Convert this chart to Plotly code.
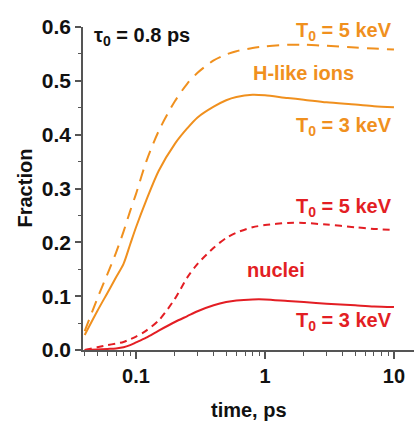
import math
import plotly.graph_objects as go

# time grid (ps)
t = [0.04, 0.05, 0.06, 0.07, 0.08, 0.09, 0.1, 0.12, 0.15, 0.2, 0.25, 0.3,
     0.4, 0.5, 0.6, 0.8, 1, 1.5, 2, 3, 5, 7, 10]

hlike_5kev = [0.035, 0.095, 0.141, 0.181, 0.22, 0.258, 0.29, 0.35, 0.407, 0.462,
              0.495, 0.515, 0.538, 0.549, 0.555, 0.561, 0.564, 0.567, 0.567,
              0.565, 0.562, 0.56, 0.558]
hlike_3kev = [0.028, 0.072, 0.106, 0.135, 0.16, 0.196, 0.228, 0.278, 0.333, 0.383,
              0.412, 0.432, 0.452, 0.464, 0.47, 0.474, 0.473, 0.468, 0.465,
              0.46, 0.456, 0.453, 0.451]
nuclei_5kev = [0.0, 0.005, 0.009, 0.012, 0.015, 0.02, 0.025, 0.036, 0.055, 0.095,
               0.135, 0.16, 0.19, 0.208, 0.218, 0.228, 0.232, 0.236, 0.236,
               0.233, 0.228, 0.225, 0.223]
nuclei_3kev = [0.0, 0.001, 0.002, 0.003, 0.005, 0.009, 0.014, 0.023, 0.036, 0.052,
               0.063, 0.072, 0.083, 0.089, 0.092, 0.094, 0.094, 0.091, 0.089,
               0.086, 0.083, 0.081, 0.080]

x_tickvals = [0.1, 1, 10]
x_ticktext = ["0.1", "1", "10"]
x_minor = [0.04, 0.05, 0.06, 0.07, 0.08, 0.09, 0.2, 0.3, 0.4, 0.5, 0.6, 0.7,
           0.8, 0.9, 2, 3, 4, 5, 6, 7, 8, 9]

ORANGE = "#F0901E"
RED = "#E31E24"
FONT = "Liberation Sans, Arial, sans-serif"

fig = go.Figure()
fig.add_trace(go.Scatter(x=t, y=hlike_5kev, mode="lines",
                         line=dict(color=ORANGE, width=2, dash="12px,8px",
                                   shape="spline", smoothing=0.8)))
fig.add_trace(go.Scatter(x=t, y=hlike_3kev, mode="lines",
                         line=dict(color=ORANGE, width=2,
                                   shape="spline", smoothing=0.8)))
fig.add_trace(go.Scatter(x=t, y=nuclei_5kev, mode="lines",
                         line=dict(color=RED, width=2, dash="7px,5px",
                                   shape="spline", smoothing=0.8)))
fig.add_trace(go.Scatter(x=t, y=nuclei_3kev, mode="lines",
                         line=dict(color=RED, width=2,
                                   shape="spline", smoothing=0.8)))

axis_col = "#555555"
fig.update_xaxes(type="log", range=[math.log10(0.0388), math.log10(14.3)],
                 tickmode="array", tickvals=x_tickvals, ticktext=x_ticktext,
                 ticks="outside", ticklen=7, tickwidth=1.5, tickcolor=axis_col,
                 showline=True, linecolor=axis_col, linewidth=1.5,
                 showgrid=False, zeroline=False,
                 tickfont=dict(family=FONT, size=20, color="#111", weight="bold"),
                 minor=dict(tickvals=x_minor, ticks="outside", ticklen=4,
                            tickwidth=1.2, tickcolor=axis_col, showgrid=False))
fig.update_yaxes(range=[0, 0.6], tickmode="linear", tick0=0, dtick=0.1,
                 tickformat=".1f",
                 ticks="outside", ticklen=6, tickwidth=1.5, tickcolor=axis_col,
                 showline=True, linecolor=axis_col, linewidth=1.5,
                 showgrid=False, zeroline=False,
                 tickfont=dict(family=FONT, size=21, color="#111", weight="bold"),
                 minor=dict(dtick=0.05, ticks="outside", ticklen=3,
                            tickwidth=1.2, tickcolor=axis_col, showgrid=False))

def ann(text, x, y, color, xanchor="center", xref="x", yref="y", **kw):
    fig.add_annotation(text=text, x=x, y=y, xref=xref, yref=yref,
                       xanchor=xanchor, yanchor="middle", showarrow=False,
                       font=dict(family=FONT, size=20, color=color, weight="bold"),
                       **kw)

ann("τ<sub>0</sub> = 0.8 ps", -1.341, 0.583, "#111", xanchor="left")
ann("T<sub>0</sub> = 5 keV", 1.0, 0.592, ORANGE, xanchor="right")
ann("H-like ions", 0.302, 0.515, ORANGE)
ann("T<sub>0</sub> = 3 keV", 1.0, 0.416, ORANGE, xanchor="right")
ann("T<sub>0</sub> = 5 keV", 1.0, 0.264, RED, xanchor="right")
ann("nuclei", 0.085, 0.149, RED)
ann("T<sub>0</sub> = 3 keV", 1.0, 0.053, RED, xanchor="right")

# axis titles
fig.add_annotation(text="time, ps", x=0.5, y=0, xref="paper", yref="paper",
                   xanchor="center", yanchor="middle", yshift=-60, showarrow=False,
                   font=dict(family=FONT, size=20, color="#111", weight="bold"))
fig.add_annotation(text="Fraction", x=0, y=0.5, xref="paper", yref="paper",
                   xanchor="center", yanchor="middle", xshift=-59, textangle=-90,
                   showarrow=False,
                   font=dict(family=FONT, size=20, color="#111", weight="bold"))

fig.update_layout(width=414, height=424, showlegend=False,
                  margin=dict(l=83, r=0, t=27, b=74),
                  plot_bgcolor="white", paper_bgcolor="white")

fig.write_html("out.html")
